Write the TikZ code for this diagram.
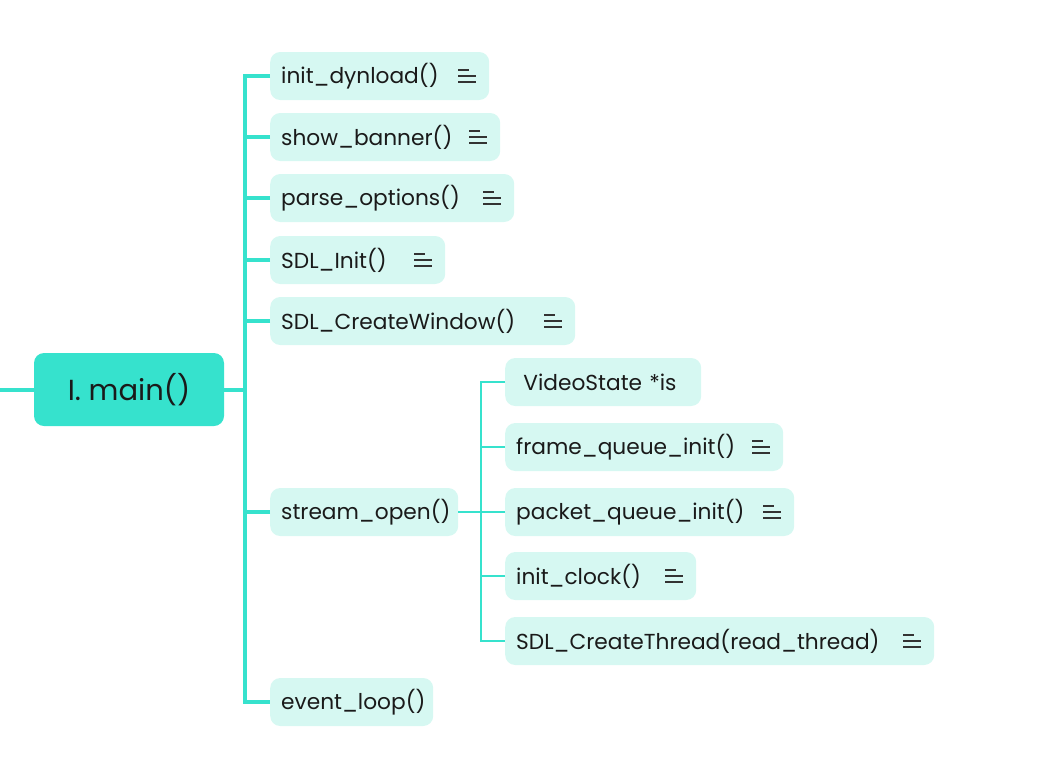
\documentclass[tikz,border=0pt]{standalone}
\usepackage{fontspec}
\setmainfont{Poppins}
\definecolor{trunk}{HTML}{36E2CD}
\definecolor{childfill}{HTML}{D6F8F2}
\definecolor{ink}{HTML}{1A1A1A}
\definecolor{icon}{HTML}{333333}
\tikzset{
  x=1pt,y=-1pt,
  mainbox/.style={fill=trunk, rounded corners=10pt, minimum width=190pt, minimum height=73pt, inner sep=0pt, text=ink, font=\fontsize{29}{32}\selectfont},
  childbox/.style={fill=childfill, rounded corners=10pt, minimum height=48pt, inner xsep=11pt, inner ysep=0pt, anchor=west, align=left, text=ink, font=\fontsize{21.7}{24}\selectfont},
  trunkline/.style={draw=trunk, line width=4pt},
  subline/.style={draw=trunk, line width=2pt},
  iconline/.style={draw=icon, line width=1.4pt}
}
\newcommand{\noteicon}[1]{%
  \draw[iconline] ([xshift=-31pt,yshift=-6pt]#1.east) -- ++(18,0);
  \draw[iconline] ([xshift=-31pt]#1.east) -- ++(18,0);
  \draw[iconline] ([xshift=-31pt,yshift=6pt]#1.east) -- ++(11,0);
}
\begin{document}
\begin{tikzpicture}
\useasboundingbox (0,0) rectangle (1038,766);
\node[mainbox] (main) at (129,389.5) {I. main()};
\coordinate (in) at (0,389.5);
\coordinate (T) at (245,389.5);
\coordinate (S) at (481,512);

\node[childbox, text width=197pt] (c1) at (270,76) {init\_dynload()};
\node[childbox, text width=208pt] (c2) at (270,137) {show\_banner()};
\node[childbox, text width=222pt] (c3) at (270,198) {parse\_options()};
\node[childbox, text width=153pt] (c4) at (270,260) {SDL\_Init()};
\node[childbox, text width=283pt] (c5) at (270,321) {SDL\_CreateWindow()};
\node[childbox, text width=166pt] (c6) at (270,512) {stream\_open()};
\node[childbox, text width=141pt] (c7) at (270,702) {event\_loop()};

\node[childbox, text width=174pt] (d1) at (505,382) {\ VideoState *is};
\node[childbox, text width=256pt] (d2) at (505,447) {frame\_queue\_init()};
\node[childbox, text width=267pt] (d3) at (505,512) {packet\_queue\_init()};
\node[childbox, text width=169pt] (d4) at (505,576) {init\_clock()};
\node[childbox, text width=407pt] (d5) at (505,641) {SDL\_CreateThread(read\_thread)};

\noteicon{c1}\noteicon{c2}\noteicon{c3}\noteicon{c4}\noteicon{c5}
\noteicon{d2}\noteicon{d3}\noteicon{d4}\noteicon{d5}

\draw[trunkline] (in) -- (main.west);
\draw[trunkline] (main.east) -- (T);
\draw[trunkline] (c1.west) -| (245,389.5) |- (c7.west);
\foreach \n in {c2,c3,c4,c5,c6} \draw[trunkline] (\n.west) -- (245,0 |- \n.west);
\draw[subline] (c6.east) -- (S);
\draw[subline] (d1.west) -| (S) |- (d5.west);
\foreach \n in {d2,d3,d4} \draw[subline] (\n.west) -- (481,0 |- \n.west);
\end{tikzpicture}
\end{document}
